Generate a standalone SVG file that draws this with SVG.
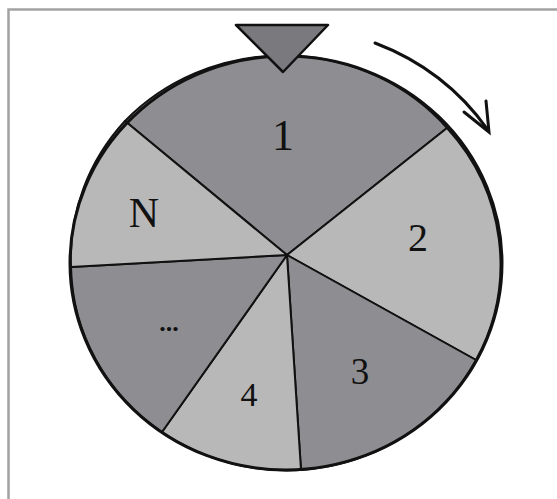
<svg xmlns="http://www.w3.org/2000/svg" width="557" height="499" viewBox="0 0 557 499">
<style>
.frame{fill:none;stroke:#a3a3a3;stroke-width:2.5}
.dark{fill:#8e8e92;stroke:#111;stroke-width:2;stroke-linejoin:round}
.light{fill:#b8b8b8;stroke:#111;stroke-width:2;stroke-linejoin:round}
.rim{fill:none;stroke:#111;stroke-width:3}
.lbl{font-family:"Liberation Serif","Times New Roman",serif;fill:#111;text-anchor:middle}
.arrow{fill:none;stroke:#111;stroke-width:3;stroke-linecap:round}
</style>
<rect width="557" height="499" fill="#fff"/>
<path class="frame" d="M8.5 499 V9.5 H557"/>
<g id="wheel">
  <g id="sector-1">
    <path class="dark" d="M287 255 L125 121 A216 207 0 0 1 447 128 Z"/>
    <text class="lbl" x="283" y="150" font-size="44">1</text>
  </g>
  <g id="sector-2">
    <path class="light" d="M287 255 L447 128 A216 207 0 0 1 476 360 Z"/>
    <text class="lbl" x="418" y="251" font-size="40">2</text>
  </g>
  <g id="sector-3">
    <path class="dark" d="M287 255 L476 360 A216 207 0 0 1 301 470 Z"/>
    <text class="lbl" x="360" y="384" font-size="37">3</text>
  </g>
  <g id="sector-4">
    <path class="light" d="M287 255 L301 470 A216 207 0 0 1 162 432 Z"/>
    <text class="lbl" x="249" y="406" font-size="34">4</text>
  </g>
  <g id="sector-more">
    <path class="dark" d="M287 255 L162 432 A216 207 0 0 1 71 267 Z"/>
    <text class="lbl" x="169" y="331" font-size="26" font-weight="bold">...</text>
  </g>
  <g id="sector-N">
    <path class="light" d="M287 255 L71 267 A216 207 0 0 1 125 121 Z"/>
    <text class="lbl" x="144" y="227" font-size="42">N</text>
  </g>
  <ellipse class="rim" cx="286" cy="263" rx="216" ry="207"/>
</g>
<g id="pointer">
  <path d="M236 25 H328 L283 72 Z" fill="#7a7a7e" stroke="#111" stroke-width="2.5" stroke-linejoin="round"/>
</g>
<g id="connectors">
  <path class="arrow" d="M375 43 A245 238 0 0 1 488 130"/>
  <path class="arrow" d="M464 112 L489 132 L486 101"/>
</g>
</svg>
